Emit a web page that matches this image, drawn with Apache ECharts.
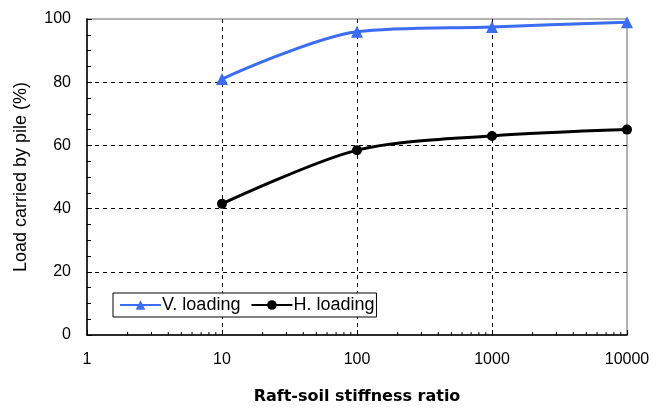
<!DOCTYPE html>
<html>
<head>
<meta charset="utf-8">
<script src="https://cdn.jsdelivr.net/npm/echarts@6/dist/echarts.min.js"></script>
<style>
  html, body { margin: 0; padding: 0; background: #fff; }
  #chart { width: 653px; height: 410px; }
</style>
</head>
<body>
<div id="chart"></div>
<script>
// Raft-soil stiffness ratio (log scale)
const stiffnessRatio = [10, 100, 1000, 10000];
// Share of load carried by the piles (%)
const vLoading = [81, 96, 97.5, 99];
const hLoading = [41.5, 58.5, 63, 65];
// Minor tick positions for the logarithmic x axis
const xMinorTicks = [2, 3, 4, 5, 6, 7, 8, 9, 20, 30, 40, 50, 60, 70, 80, 90,
  200, 300, 400, 500, 600, 700, 800, 900, 2000, 3000, 4000, 5000, 6000, 7000, 8000, 9000];

const textFont = '"Liberation Sans", Arial, sans-serif';
const dashed = { color: '#000', width: 1, type: [4, 4] };

const chart = echarts.init(document.getElementById('chart'));
chart.setOption({
  animation: false,
  grid: {
    left: 87, top: 19, right: 26, bottom: 73,
    show: true, borderColor: '#999', borderWidth: 1.5, backgroundColor: 'transparent'
  },
  legend: {
    left: 113, top: 293,
    data: ['V. loading', 'H. loading'],
    backgroundColor: '#fff',
    borderColor: '#000', borderWidth: 1,
    padding: [3, 2, 3, 6],
    itemWidth: 41, itemHeight: 12, itemGap: 10,
    textStyle: { fontFamily: textFont, fontSize: 18, color: '#000', padding: [0, 0, 0, -4] }
  },
  xAxis: {
    type: 'log', logBase: 10, min: 1, max: 10000,
    name: 'Raft-soil stiffness ratio',
    nameLocation: 'middle', nameGap: 54,
    nameTextStyle: { fontFamily: '"DejaVu Sans", Verdana, sans-serif', fontWeight: 'bold', fontSize: 16, color: '#000' },
    axisLine: { lineStyle: { color: '#000', width: 1.5 } },
    axisTick: { inside: true, length: 5, lineStyle: { color: '#000' } },
    axisLabel: { fontFamily: textFont, fontSize: 16, color: '#000', margin: 17, formatter: v => String(v) },
    splitLine: { show: true, showMinLine: false, showMaxLine: false, lineStyle: dashed }
  },
  yAxis: {
    type: 'value', min: 0, max: 100, interval: 20,
    name: 'Load carried by pile (%)',
    nameLocation: 'middle', nameGap: 57,
    nameTextStyle: { fontFamily: textFont, fontSize: 18, color: '#000' },
    axisLine: { show: true, lineStyle: { color: '#000', width: 1.5 } },
    axisTick: { inside: true, length: 5, lineStyle: { color: '#000' } },
    minorTick: { show: true, splitNumber: 4, length: 4, lineStyle: { color: '#000' } },
    axisLabel: { fontFamily: textFont, fontSize: 16, color: '#000', margin: 16 },
    splitLine: { show: true, showMinLine: false, showMaxLine: false, lineStyle: dashed }
  },
  series: [
    {
      name: 'x minor ticks',
      type: 'custom',
      silent: true,
      clip: false,
      data: xMinorTicks.map(v => [v, 0]),
      renderItem: function (params, api) {
        const p = api.coord([api.value(0), 0]);
        return {
          type: 'line',
          shape: { x1: p[0], y1: p[1], x2: p[0], y2: p[1] - 3 },
          style: { stroke: '#000', lineWidth: 1 }
        };
      }
    },
    {
      name: 'V. loading',
      type: 'line',
      smooth: 0.3,
      data: stiffnessRatio.map((x, i) => [x, vLoading[i]]),
      symbol: 'triangle', symbolSize: 12,
      lineStyle: { color: '#3a6cf4', width: 3 },
      itemStyle: { color: '#3a6cf4' },
      z: 3
    },
    {
      name: 'H. loading',
      type: 'line',
      smooth: 0.3,
      data: stiffnessRatio.map((x, i) => [x, hLoading[i]]),
      symbol: 'circle', symbolSize: 10,
      lineStyle: { color: '#000', width: 3 },
      itemStyle: { color: '#000' },
      z: 3
    }
  ]
});
</script>
</body>
</html>
